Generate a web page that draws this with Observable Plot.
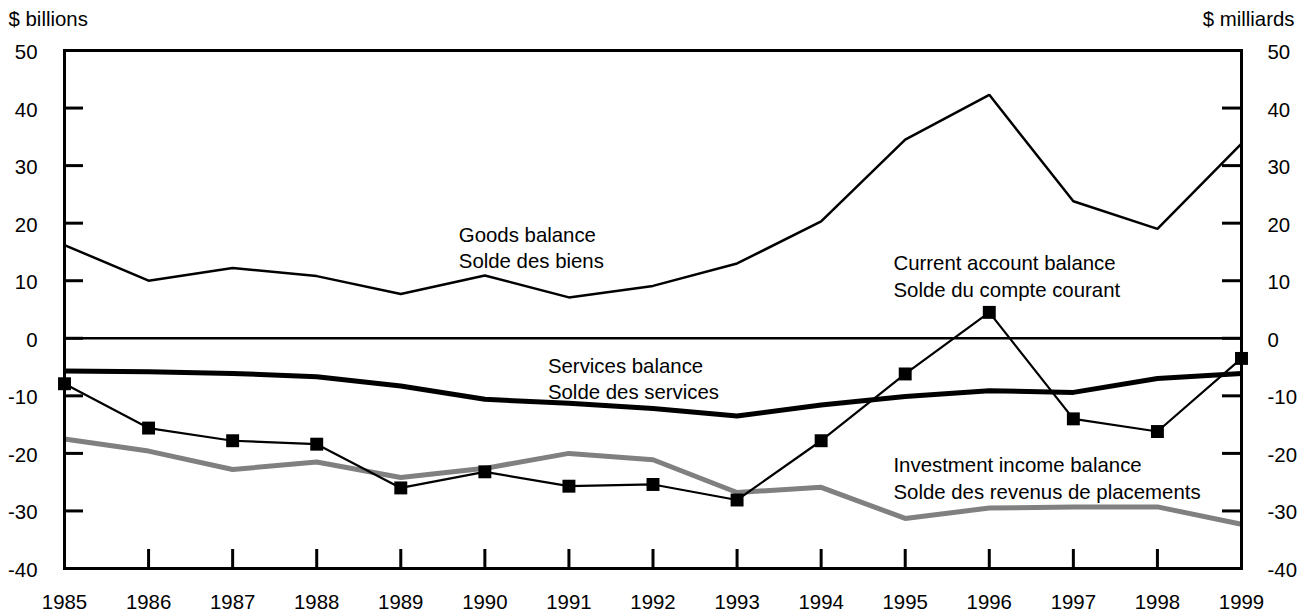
<!DOCTYPE html>
<html>
<head>
<meta charset="utf-8">
<script src="https://cdn.jsdelivr.net/npm/d3@7"></script>
<script src="https://cdn.jsdelivr.net/npm/@observablehq/plot@0.6"></script>
<style>
  html, body { margin: 0; padding: 0; background: #fff; }
</style>
</head>
<body>
<div id="chart"></div>
<script>
const years = [1985, 1986, 1987, 1988, 1989, 1990, 1991, 1992, 1993, 1994, 1995, 1996, 1997, 1998, 1999];
const goodsBalance = [16.2, 10.0, 12.2, 10.8, 7.7, 10.9, 7.1, 9.1, 13.0, 20.3, 34.5, 42.3, 23.8, 19.0, 33.8];
const servicesBalance = [-5.7, -5.8, -6.1, -6.7, -8.3, -10.6, -11.3, -12.2, -13.5, -11.6, -10.1, -9.1, -9.4, -7.0, -6.1];
const currentAccount = [-7.9, -15.6, -17.8, -18.4, -26.0, -23.2, -25.7, -25.4, -28.1, -17.8, -6.2, 4.5, -14.0, -16.2, -3.5];
const investmentIncome = [-17.5, -19.6, -22.8, -21.5, -24.2, -22.6, -20.0, -21.1, -26.8, -25.9, -31.3, -29.5, -29.3, -29.3, -32.3];
const yTicks = [-40, -30, -20, -10, 0, 10, 20, 30, 40, 50];

const seriesLabels = [
  {x: 1989.69, y: 20.0, text: "Goods balance\nSolde des biens"},
  {x: 1994.86, y: 15.0, text: "Current account balance\nSolde du compte courant"},
  {x: 1990.75, y: -2.75, text: "Services balance\nSolde des services"},
  {x: 1994.86, y: -20.1, text: "Investment income balance\nSolde des revenus de placements"}
];

const W = 1304, H = 613;
const mL = 64, mR = 63, mT = 50, mB = 45;
const innerW = W - mL - mR, innerH = H - mT - mB;
const tickLen = 19;
const FS = 20.4;

const toRows = (vals) => vals.map((v, i) => ({year: years[i], value: v}));
const fmt = d => String(d);

const chart = Plot.plot({
  width: W,
  height: H,
  marginLeft: mL,
  marginRight: mR,
  marginTop: mT,
  marginBottom: mB,
  style: {fontFamily: "'Liberation Sans', Arial, Helvetica, sans-serif", fontSize: FS + "px", color: "#000", background: "#fff"},
  x: {domain: [1985, 1999]},
  y: {domain: [-40, 50]},
  marks: [
    // inward ticks
    Plot.ruleY(yTicks, {y: d => d, insetRight: innerW - tickLen, stroke: "#000", strokeWidth: 3}),
    Plot.ruleY(yTicks, {y: d => d, insetLeft: innerW - tickLen, stroke: "#000", strokeWidth: 3}),
    Plot.ruleX(years, {x: d => d, insetTop: innerH - tickLen, stroke: "#000", strokeWidth: 3}),
    // tick labels
    Plot.axisY({anchor: "left", ticks: yTicks, tickSize: 0, tickPadding: 27, label: null, dy: 2, tickFormat: fmt}),
    Plot.axisY({anchor: "right", ticks: yTicks, tickSize: 0, tickPadding: 26, label: null, dy: 2, tickFormat: fmt}),
    Plot.axisX({anchor: "bottom", ticks: years, tickSize: 0, tickPadding: 26, label: null, tickFormat: fmt}),
    // zero line
    Plot.ruleY([0], {stroke: "#000", strokeWidth: 2.5}),
    // series
    Plot.line(toRows(investmentIncome), {x: "year", y: "value", stroke: "#808080", strokeWidth: 5, strokeLinejoin: "miter", strokeLinecap: "butt"}),
    Plot.line(toRows(servicesBalance), {x: "year", y: "value", stroke: "#000", strokeWidth: 5, strokeLinejoin: "miter", strokeLinecap: "butt"}),
    Plot.line(toRows(goodsBalance), {x: "year", y: "value", stroke: "#000", strokeWidth: 2.5, strokeLinejoin: "miter", strokeLinecap: "butt"}),
    Plot.line(toRows(currentAccount), {x: "year", y: "value", stroke: "#000", strokeWidth: 2.2, strokeLinejoin: "miter"}),
    Plot.dot(toRows(currentAccount), {x: "year", y: "value", symbol: "square", r: 7.3, fill: "#000", stroke: "none"}),
    // series labels
    Plot.text(seriesLabels, {x: "x", y: "y", text: "text", textAnchor: "start", lineAnchor: "top", lineHeight: 1.28, fill: "#000", fontSize: FS}),
    // unit labels
    Plot.text(["$ billions"], {frameAnchor: "top-left", textAnchor: "start", lineAnchor: "bottom", dx: 8 - mL, dy: 25 - mT, fill: "#000", fontSize: FS}),
    Plot.text(["$ milliards"], {frameAnchor: "top-right", textAnchor: "end", lineAnchor: "bottom", dx: 53, dy: 25 - mT, fill: "#000", fontSize: FS}),
    // frame
    Plot.frame({stroke: "#000", strokeWidth: 3})
  ]
});

document.getElementById("chart").appendChild(chart);
</script>
</body>
</html>
